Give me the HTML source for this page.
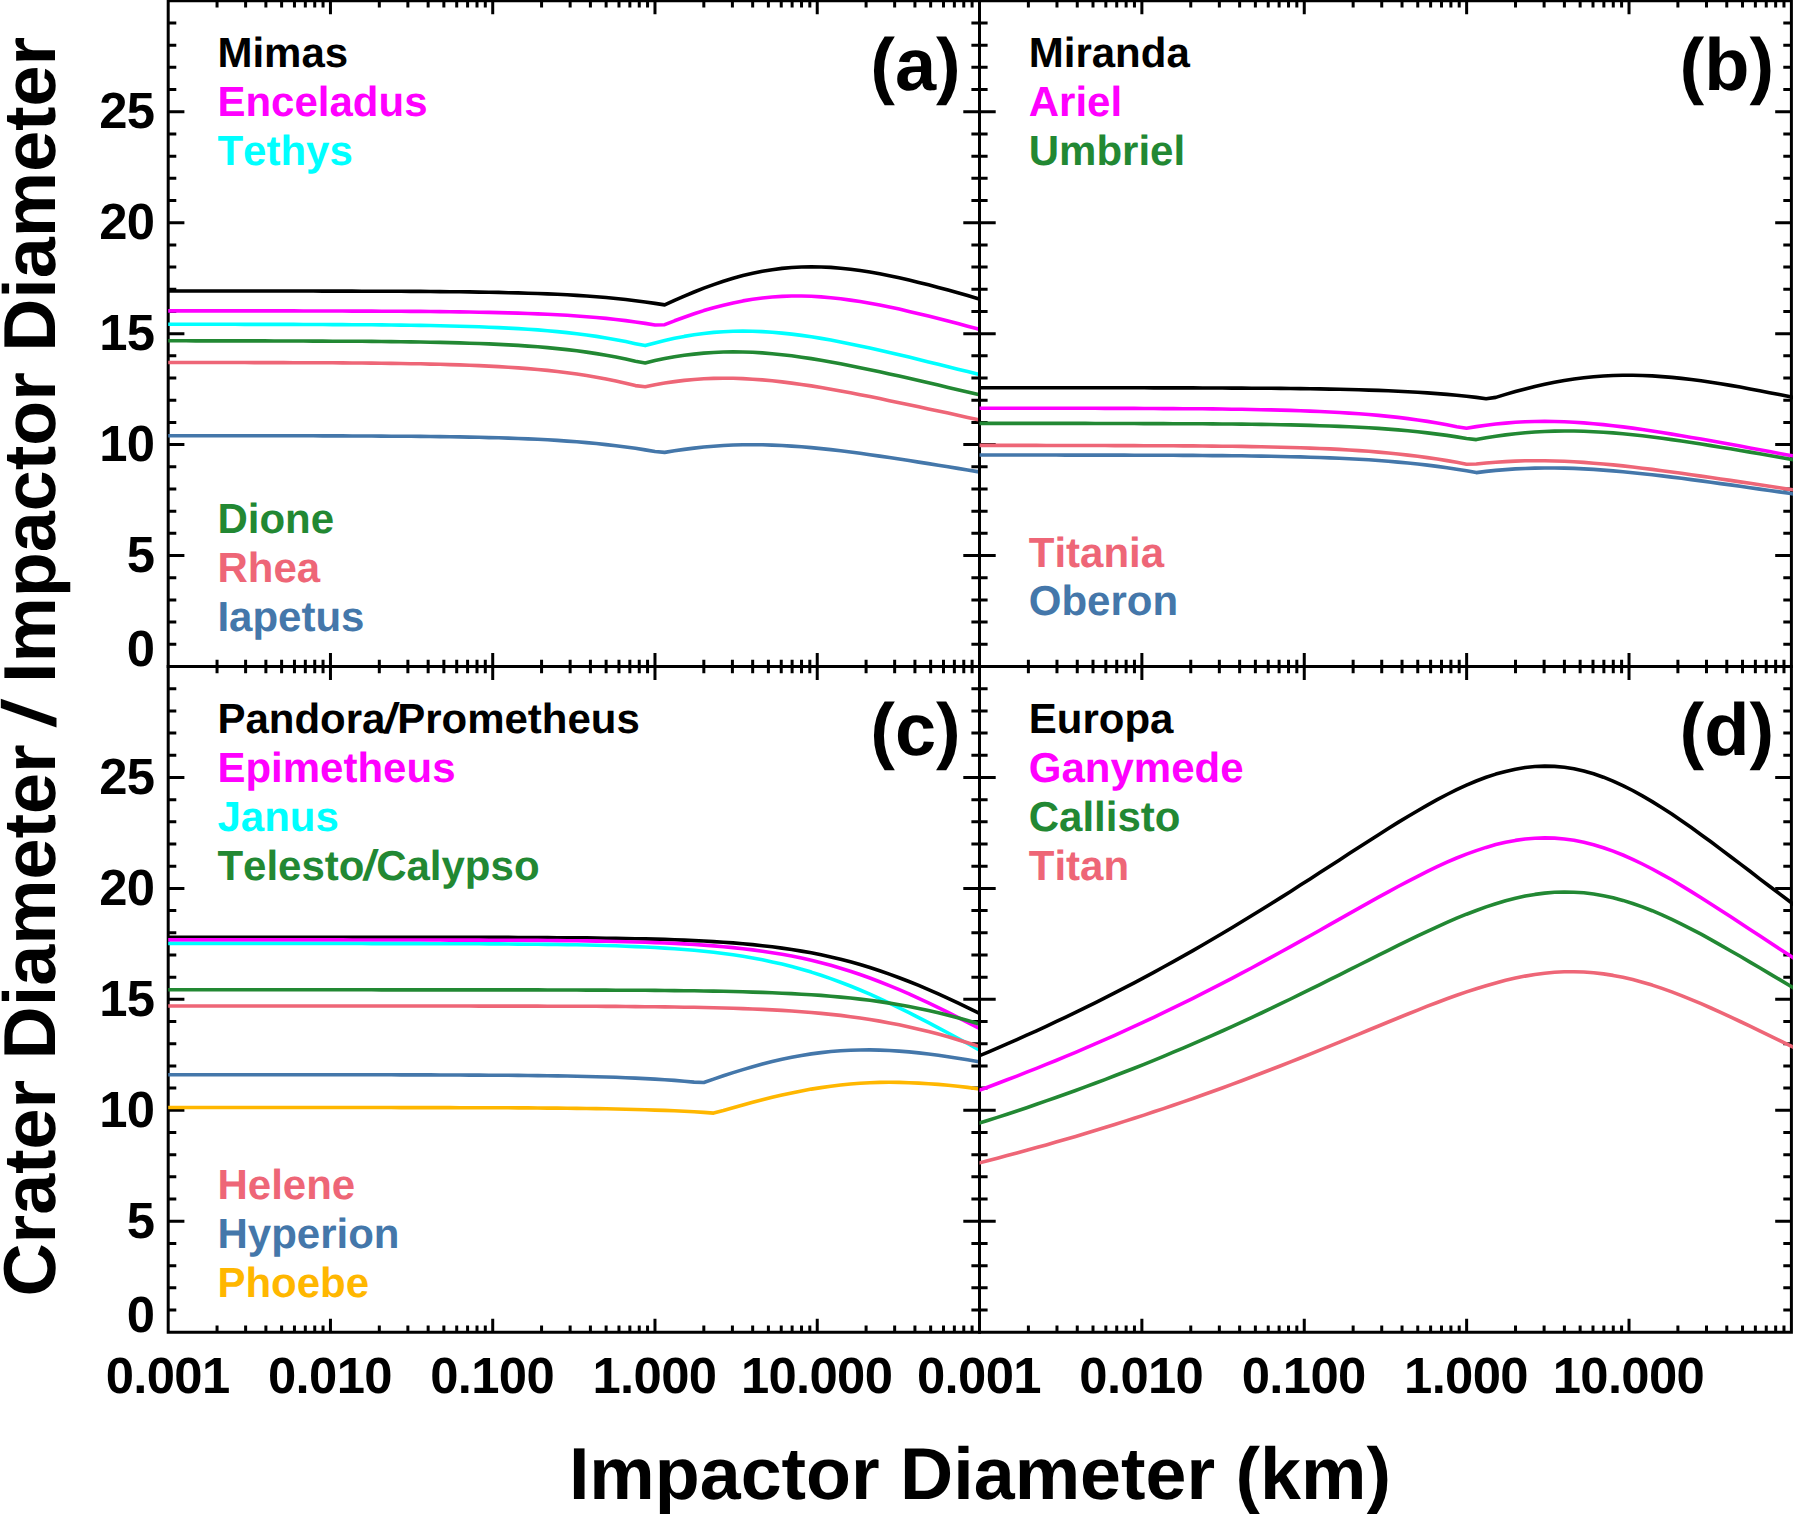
<!DOCTYPE html>
<html><head><meta charset="utf-8"><title>Crater Diameter / Impactor Diameter</title>
<style>html,body{margin:0;padding:0;background:#fff}body{width:1793px;height:1514px;overflow:hidden}</style></head>
<body>
<svg width="1793" height="1514" viewBox="0 0 1793 1514" style="display:block;font-kerning:none;text-rendering:geometricPrecision">
<rect width="1793" height="1514" fill="#fff"/>
<defs>
<clipPath id="cpa"><rect x="168.2" y="0.8" width="811.3" height="665.7"/></clipPath>
<clipPath id="cpb"><rect x="979.5" y="0.8" width="813.4000000000001" height="665.7"/></clipPath>
<clipPath id="cpc"><rect x="168.2" y="666.5" width="811.3" height="665.7"/></clipPath>
<clipPath id="cpd"><rect x="979.5" y="666.5" width="813.4000000000001" height="665.7"/></clipPath>
</defs>
<path d="M168.2 0.8H979.5V666.5H168.2ZM217.05 0.8v6.8M217.05 666.5v-6.8M245.62 0.8v6.8M245.62 666.5v-6.8M265.89 0.8v6.8M265.89 666.5v-6.8M281.61 0.8v6.8M281.61 666.5v-6.8M294.46 0.8v6.8M294.46 666.5v-6.8M305.33 0.8v6.8M305.33 666.5v-6.8M314.74 0.8v6.8M314.74 666.5v-6.8M323.04 0.8v6.8M323.04 666.5v-6.8M330.46 0.8v13.4M330.46 666.5v-13.4M379.31 0.8v6.8M379.31 666.5v-6.8M407.88 0.8v6.8M407.88 666.5v-6.8M428.15 0.8v6.8M428.15 666.5v-6.8M443.87 0.8v6.8M443.87 666.5v-6.8M456.72 0.8v6.8M456.72 666.5v-6.8M467.59 0.8v6.8M467.59 666.5v-6.8M477.00 0.8v6.8M477.00 666.5v-6.8M485.30 0.8v6.8M485.30 666.5v-6.8M492.72 0.8v13.4M492.72 666.5v-13.4M541.57 0.8v6.8M541.57 666.5v-6.8M570.14 0.8v6.8M570.14 666.5v-6.8M590.41 0.8v6.8M590.41 666.5v-6.8M606.13 0.8v6.8M606.13 666.5v-6.8M618.98 0.8v6.8M618.98 666.5v-6.8M629.85 0.8v6.8M629.85 666.5v-6.8M639.26 0.8v6.8M639.26 666.5v-6.8M647.56 0.8v6.8M647.56 666.5v-6.8M654.98 0.8v13.4M654.98 666.5v-13.4M703.83 0.8v6.8M703.83 666.5v-6.8M732.40 0.8v6.8M732.40 666.5v-6.8M752.67 0.8v6.8M752.67 666.5v-6.8M768.39 0.8v6.8M768.39 666.5v-6.8M781.24 0.8v6.8M781.24 666.5v-6.8M792.11 0.8v6.8M792.11 666.5v-6.8M801.52 0.8v6.8M801.52 666.5v-6.8M809.82 0.8v6.8M809.82 666.5v-6.8M817.24 0.8v13.4M817.24 666.5v-13.4M866.09 0.8v6.8M866.09 666.5v-6.8M894.66 0.8v6.8M894.66 666.5v-6.8M914.93 0.8v6.8M914.93 666.5v-6.8M930.65 0.8v6.8M930.65 666.5v-6.8M943.50 0.8v6.8M943.50 666.5v-6.8M954.37 0.8v6.8M954.37 666.5v-6.8M963.78 0.8v6.8M963.78 666.5v-6.8M972.08 0.8v6.8M972.08 666.5v-6.8M168.2 644.31h8.1M979.5 644.31h-8.1M168.2 622.12h8.1M979.5 622.12h-8.1M168.2 599.93h8.1M979.5 599.93h-8.1M168.2 577.74h8.1M979.5 577.74h-8.1M168.2 555.55h16.2M979.5 555.55h-16.2M168.2 533.36h8.1M979.5 533.36h-8.1M168.2 511.17h8.1M979.5 511.17h-8.1M168.2 488.98h8.1M979.5 488.98h-8.1M168.2 466.79h8.1M979.5 466.79h-8.1M168.2 444.60h16.2M979.5 444.60h-16.2M168.2 422.41h8.1M979.5 422.41h-8.1M168.2 400.22h8.1M979.5 400.22h-8.1M168.2 378.03h8.1M979.5 378.03h-8.1M168.2 355.84h8.1M979.5 355.84h-8.1M168.2 333.65h16.2M979.5 333.65h-16.2M168.2 311.46h8.1M979.5 311.46h-8.1M168.2 289.27h8.1M979.5 289.27h-8.1M168.2 267.08h8.1M979.5 267.08h-8.1M168.2 244.89h8.1M979.5 244.89h-8.1M168.2 222.70h16.2M979.5 222.70h-16.2M168.2 200.51h8.1M979.5 200.51h-8.1M168.2 178.32h8.1M979.5 178.32h-8.1M168.2 156.13h8.1M979.5 156.13h-8.1M168.2 133.94h8.1M979.5 133.94h-8.1M168.2 111.75h16.2M979.5 111.75h-16.2M168.2 89.56h8.1M979.5 89.56h-8.1M168.2 67.37h8.1M979.5 67.37h-8.1M168.2 45.18h8.1M979.5 45.18h-8.1M168.2 22.99h8.1M979.5 22.99h-8.1" fill="none" stroke="#000" stroke-width="3.0" stroke-linejoin="miter"/>
<g clip-path="url(#cpa)" fill="none" stroke-width="3.6" stroke-linejoin="round" stroke-linecap="butt">
<path d="M156.8 290.9 L166.5 290.9 L176.3 291.0 L186.1 291.0 L195.8 291.0 L205.6 291.0 L215.4 291.0 L225.1 291.0 L234.9 291.0 L244.7 291.0 L254.4 291.0 L264.2 291.0 L274.0 291.0 L283.8 291.0 L293.5 291.0 L303.3 291.0 L313.1 291.0 L322.8 291.1 L332.6 291.1 L342.4 291.1 L352.1 291.1 L361.9 291.2 L371.7 291.2 L381.4 291.2 L391.2 291.3 L401.0 291.3 L410.8 291.4 L420.5 291.4 L430.3 291.5 L440.1 291.6 L449.8 291.7 L459.6 291.8 L469.4 291.9 L479.1 292.1 L488.9 292.2 L498.7 292.4 L508.4 292.7 L518.2 292.9 L528.0 293.2 L537.8 293.5 L547.5 293.9 L557.3 294.3 L567.1 294.8 L576.8 295.4 L586.6 296.0 L596.4 296.7 L606.1 297.5 L615.9 298.5 L625.7 299.5 L635.4 300.7 L645.2 302.0 L655.0 303.4 L664.7 304.9 L674.5 300.4 L684.3 296.1 L694.1 292.0 L703.8 288.1 L713.6 284.6 L723.4 281.3 L733.1 278.3 L742.9 275.6 L752.7 273.3 L762.4 271.3 L772.2 269.7 L782.0 268.4 L791.7 267.5 L801.5 267.0 L811.3 266.8 L821.1 267.0 L830.8 267.4 L840.6 268.2 L850.4 269.2 L860.1 270.5 L869.9 272.0 L879.7 273.8 L889.4 275.7 L899.2 277.8 L909.0 280.0 L918.7 282.4 L928.5 284.8 L938.3 287.4 L948.1 290.1 L957.8 292.8 L967.6 295.6 L977.4 298.4 L987.1 301.3 L996.9 304.2" stroke="#000000"/>
<path d="M156.8 310.9 L166.5 310.9 L176.3 310.9 L186.1 310.9 L195.8 310.9 L205.6 310.9 L215.4 310.9 L225.1 310.9 L234.9 310.9 L244.7 310.9 L254.4 310.9 L264.2 310.9 L274.0 310.9 L283.8 310.9 L293.5 310.9 L303.3 311.0 L313.1 311.0 L322.8 311.0 L332.6 311.0 L342.4 311.0 L352.1 311.1 L361.9 311.1 L371.7 311.1 L381.4 311.2 L391.2 311.2 L401.0 311.3 L410.8 311.4 L420.5 311.4 L430.3 311.5 L440.1 311.6 L449.8 311.7 L459.6 311.9 L469.4 312.0 L479.1 312.2 L488.9 312.4 L498.7 312.6 L508.4 312.9 L518.2 313.1 L528.0 313.5 L537.8 313.9 L547.5 314.3 L557.3 314.8 L567.1 315.3 L576.8 316.0 L586.6 316.7 L596.4 317.5 L606.1 318.4 L615.9 319.5 L625.7 320.6 L635.4 322.0 L645.2 323.4 L655.0 325.0 L664.7 324.7 L674.5 320.8 L684.3 317.2 L694.1 313.8 L703.8 310.6 L713.6 307.7 L723.4 305.2 L733.1 302.9 L742.9 300.9 L752.7 299.3 L762.4 298.0 L772.2 297.0 L782.0 296.4 L791.7 296.0 L801.5 296.0 L811.3 296.3 L821.1 296.9 L830.8 297.7 L840.6 298.8 L850.4 300.1 L860.1 301.5 L869.9 303.2 L879.7 305.1 L889.4 307.0 L899.2 309.1 L909.0 311.4 L918.7 313.7 L928.5 316.1 L938.3 318.5 L948.1 321.0 L957.8 323.6 L967.6 326.2 L977.4 328.8 L987.1 331.5 L996.9 334.2" stroke="#FF00FF"/>
<path d="M156.8 324.3 L166.5 324.3 L176.3 324.3 L186.1 324.3 L195.8 324.3 L205.6 324.3 L215.4 324.3 L225.1 324.3 L234.9 324.3 L244.7 324.4 L254.4 324.4 L264.2 324.4 L274.0 324.4 L283.8 324.4 L293.5 324.4 L303.3 324.5 L313.1 324.5 L322.8 324.5 L332.6 324.6 L342.4 324.6 L352.1 324.7 L361.9 324.8 L371.7 324.8 L381.4 324.9 L391.2 325.0 L401.0 325.1 L410.8 325.2 L420.5 325.4 L430.3 325.5 L440.1 325.7 L449.8 326.0 L459.6 326.2 L469.4 326.5 L479.1 326.8 L488.9 327.2 L498.7 327.6 L508.4 328.1 L518.2 328.6 L528.0 329.2 L537.8 329.9 L547.5 330.7 L557.3 331.6 L567.1 332.6 L576.8 333.7 L586.6 335.0 L596.4 336.4 L606.1 338.0 L615.9 339.7 L625.7 341.6 L635.4 343.7 L645.2 345.6 L655.0 342.9 L664.7 340.5 L674.5 338.3 L684.3 336.4 L694.1 334.8 L703.8 333.5 L713.6 332.4 L723.4 331.7 L733.1 331.3 L742.9 331.1 L752.7 331.2 L762.4 331.6 L772.2 332.2 L782.0 333.1 L791.7 334.1 L801.5 335.4 L811.3 336.8 L821.1 338.4 L830.8 340.1 L840.6 341.9 L850.4 343.9 L860.1 345.9 L869.9 348.0 L879.7 350.2 L889.4 352.5 L899.2 354.8 L909.0 357.1 L918.7 359.5 L928.5 361.9 L938.3 364.3 L948.1 366.7 L957.8 369.2 L967.6 371.6 L977.4 374.0 L987.1 376.5 L996.9 378.9" stroke="#00FFFF"/>
<path d="M156.8 340.8 L166.5 340.8 L176.3 340.8 L186.1 340.8 L195.8 340.9 L205.6 340.9 L215.4 340.9 L225.1 340.9 L234.9 340.9 L244.7 340.9 L254.4 340.9 L264.2 340.9 L274.0 341.0 L283.8 341.0 L293.5 341.0 L303.3 341.0 L313.1 341.1 L322.8 341.1 L332.6 341.2 L342.4 341.2 L352.1 341.3 L361.9 341.3 L371.7 341.4 L381.4 341.5 L391.2 341.6 L401.0 341.7 L410.8 341.9 L420.5 342.0 L430.3 342.2 L440.1 342.4 L449.8 342.6 L459.6 342.9 L469.4 343.2 L479.1 343.5 L488.9 343.9 L498.7 344.4 L508.4 344.9 L518.2 345.4 L528.0 346.1 L537.8 346.8 L547.5 347.6 L557.3 348.6 L567.1 349.6 L576.8 350.8 L586.6 352.1 L596.4 353.6 L606.1 355.2 L615.9 357.0 L625.7 359.0 L635.4 361.2 L645.2 362.9 L655.0 360.6 L664.7 358.6 L674.5 356.8 L684.3 355.3 L694.1 354.1 L703.8 353.1 L713.6 352.5 L723.4 352.0 L733.1 351.9 L742.9 352.0 L752.7 352.3 L762.4 352.9 L772.2 353.7 L782.0 354.7 L791.7 355.8 L801.5 357.2 L811.3 358.6 L821.1 360.2 L830.8 361.9 L840.6 363.8 L850.4 365.7 L860.1 367.7 L869.9 369.7 L879.7 371.8 L889.4 373.9 L899.2 376.1 L909.0 378.3 L918.7 380.6 L928.5 382.8 L938.3 385.1 L948.1 387.4 L957.8 389.7 L967.6 392.0 L977.4 394.2 L987.1 396.5 L996.9 398.8" stroke="#228833"/>
<path d="M156.8 362.5 L166.5 362.5 L176.3 362.5 L186.1 362.5 L195.8 362.5 L205.6 362.5 L215.4 362.5 L225.1 362.5 L234.9 362.5 L244.7 362.5 L254.4 362.6 L264.2 362.6 L274.0 362.6 L283.8 362.6 L293.5 362.7 L303.3 362.7 L313.1 362.7 L322.8 362.8 L332.6 362.8 L342.4 362.9 L352.1 363.0 L361.9 363.0 L371.7 363.1 L381.4 363.2 L391.2 363.4 L401.0 363.5 L410.8 363.7 L420.5 363.8 L430.3 364.1 L440.1 364.3 L449.8 364.6 L459.6 364.9 L469.4 365.2 L479.1 365.6 L488.9 366.1 L498.7 366.6 L508.4 367.2 L518.2 367.9 L528.0 368.6 L537.8 369.5 L547.5 370.4 L557.3 371.5 L567.1 372.7 L576.8 374.0 L586.6 375.5 L596.4 377.2 L606.1 379.0 L615.9 381.0 L625.7 383.2 L635.4 385.6 L645.2 386.7 L655.0 384.7 L664.7 383.0 L674.5 381.6 L684.3 380.4 L694.1 379.5 L703.8 378.8 L713.6 378.4 L723.4 378.2 L733.1 378.3 L742.9 378.6 L752.7 379.2 L762.4 379.9 L772.2 380.8 L782.0 381.9 L791.7 383.1 L801.5 384.5 L811.3 385.9 L821.1 387.5 L830.8 389.2 L840.6 391.0 L850.4 392.8 L860.1 394.7 L869.9 396.6 L879.7 398.6 L889.4 400.7 L899.2 402.7 L909.0 404.8 L918.7 406.8 L928.5 408.9 L938.3 411.0 L948.1 413.1 L957.8 415.3 L967.6 417.4 L977.4 419.5 L987.1 421.6 L996.9 423.6" stroke="#EE6677"/>
<path d="M156.8 435.7 L166.5 435.7 L176.3 435.7 L186.1 435.7 L195.8 435.7 L205.6 435.7 L215.4 435.7 L225.1 435.7 L234.9 435.7 L244.7 435.7 L254.4 435.8 L264.2 435.8 L274.0 435.8 L283.8 435.8 L293.5 435.8 L303.3 435.8 L313.1 435.8 L322.8 435.9 L332.6 435.9 L342.4 435.9 L352.1 436.0 L361.9 436.0 L371.7 436.0 L381.4 436.1 L391.2 436.2 L401.0 436.2 L410.8 436.3 L420.5 436.4 L430.3 436.5 L440.1 436.6 L449.8 436.8 L459.6 436.9 L469.4 437.1 L479.1 437.3 L488.9 437.6 L498.7 437.8 L508.4 438.1 L518.2 438.5 L528.0 438.9 L537.8 439.3 L547.5 439.8 L557.3 440.4 L567.1 441.1 L576.8 441.8 L586.6 442.6 L596.4 443.5 L606.1 444.6 L615.9 445.7 L625.7 447.0 L635.4 448.3 L645.2 449.9 L655.0 451.5 L664.7 452.4 L674.5 450.8 L684.3 449.4 L694.1 448.1 L703.8 447.0 L713.6 446.2 L723.4 445.5 L733.1 445.0 L742.9 444.8 L752.7 444.7 L762.4 444.8 L772.2 445.1 L782.0 445.5 L791.7 446.1 L801.5 446.8 L811.3 447.6 L821.1 448.6 L830.8 449.6 L840.6 450.8 L850.4 452.0 L860.1 453.3 L869.9 454.7 L879.7 456.1 L889.4 457.5 L899.2 459.0 L909.0 460.5 L918.7 462.1 L928.5 463.6 L938.3 465.2 L948.1 466.8 L957.8 468.4 L967.6 470.0 L977.4 471.6 L987.1 473.2 L996.9 474.8" stroke="#4477AA"/>
</g>
<path d="M979.5 0.8H1791.4V666.5H979.5ZM1028.38 0.8v6.8M1028.38 666.5v-6.8M1056.97 0.8v6.8M1056.97 666.5v-6.8M1077.26 0.8v6.8M1077.26 666.5v-6.8M1093.00 0.8v6.8M1093.00 666.5v-6.8M1105.86 0.8v6.8M1105.86 666.5v-6.8M1116.73 0.8v6.8M1116.73 666.5v-6.8M1126.14 0.8v6.8M1126.14 666.5v-6.8M1134.45 0.8v6.8M1134.45 666.5v-6.8M1141.88 0.8v13.4M1141.88 666.5v-13.4M1190.76 0.8v6.8M1190.76 666.5v-6.8M1219.35 0.8v6.8M1219.35 666.5v-6.8M1239.64 0.8v6.8M1239.64 666.5v-6.8M1255.38 0.8v6.8M1255.38 666.5v-6.8M1268.24 0.8v6.8M1268.24 666.5v-6.8M1279.11 0.8v6.8M1279.11 666.5v-6.8M1288.52 0.8v6.8M1288.52 666.5v-6.8M1296.83 0.8v6.8M1296.83 666.5v-6.8M1304.26 0.8v13.4M1304.26 666.5v-13.4M1353.14 0.8v6.8M1353.14 666.5v-6.8M1381.73 0.8v6.8M1381.73 666.5v-6.8M1402.02 0.8v6.8M1402.02 666.5v-6.8M1417.76 0.8v6.8M1417.76 666.5v-6.8M1430.62 0.8v6.8M1430.62 666.5v-6.8M1441.49 0.8v6.8M1441.49 666.5v-6.8M1450.90 0.8v6.8M1450.90 666.5v-6.8M1459.21 0.8v6.8M1459.21 666.5v-6.8M1466.64 0.8v13.4M1466.64 666.5v-13.4M1515.52 0.8v6.8M1515.52 666.5v-6.8M1544.11 0.8v6.8M1544.11 666.5v-6.8M1564.40 0.8v6.8M1564.40 666.5v-6.8M1580.14 0.8v6.8M1580.14 666.5v-6.8M1593.00 0.8v6.8M1593.00 666.5v-6.8M1603.87 0.8v6.8M1603.87 666.5v-6.8M1613.28 0.8v6.8M1613.28 666.5v-6.8M1621.59 0.8v6.8M1621.59 666.5v-6.8M1629.02 0.8v13.4M1629.02 666.5v-13.4M1677.90 0.8v6.8M1677.90 666.5v-6.8M1706.49 0.8v6.8M1706.49 666.5v-6.8M1726.78 0.8v6.8M1726.78 666.5v-6.8M1742.52 0.8v6.8M1742.52 666.5v-6.8M1755.38 0.8v6.8M1755.38 666.5v-6.8M1766.25 0.8v6.8M1766.25 666.5v-6.8M1775.66 0.8v6.8M1775.66 666.5v-6.8M1783.97 0.8v6.8M1783.97 666.5v-6.8M979.5 644.31h8.1M1791.4 644.31h-8.1M979.5 622.12h8.1M1791.4 622.12h-8.1M979.5 599.93h8.1M1791.4 599.93h-8.1M979.5 577.74h8.1M1791.4 577.74h-8.1M979.5 555.55h16.2M1791.4 555.55h-16.2M979.5 533.36h8.1M1791.4 533.36h-8.1M979.5 511.17h8.1M1791.4 511.17h-8.1M979.5 488.98h8.1M1791.4 488.98h-8.1M979.5 466.79h8.1M1791.4 466.79h-8.1M979.5 444.60h16.2M1791.4 444.60h-16.2M979.5 422.41h8.1M1791.4 422.41h-8.1M979.5 400.22h8.1M1791.4 400.22h-8.1M979.5 378.03h8.1M1791.4 378.03h-8.1M979.5 355.84h8.1M1791.4 355.84h-8.1M979.5 333.65h16.2M1791.4 333.65h-16.2M979.5 311.46h8.1M1791.4 311.46h-8.1M979.5 289.27h8.1M1791.4 289.27h-8.1M979.5 267.08h8.1M1791.4 267.08h-8.1M979.5 244.89h8.1M1791.4 244.89h-8.1M979.5 222.70h16.2M1791.4 222.70h-16.2M979.5 200.51h8.1M1791.4 200.51h-8.1M979.5 178.32h8.1M1791.4 178.32h-8.1M979.5 156.13h8.1M1791.4 156.13h-8.1M979.5 133.94h8.1M1791.4 133.94h-8.1M979.5 111.75h16.2M1791.4 111.75h-16.2M979.5 89.56h8.1M1791.4 89.56h-8.1M979.5 67.37h8.1M1791.4 67.37h-8.1M979.5 45.18h8.1M1791.4 45.18h-8.1M979.5 22.99h8.1M1791.4 22.99h-8.1" fill="none" stroke="#000" stroke-width="3.0" stroke-linejoin="miter"/>
<g clip-path="url(#cpb)" fill="none" stroke-width="3.6" stroke-linejoin="round" stroke-linecap="butt">
<path d="M968.1 387.8 L977.8 387.8 L987.6 387.8 L997.4 387.8 L1007.1 387.8 L1016.9 387.8 L1026.7 387.8 L1036.5 387.8 L1046.2 387.8 L1056.0 387.8 L1065.8 387.8 L1075.6 387.8 L1085.3 387.8 L1095.1 387.8 L1104.9 387.8 L1114.7 387.8 L1124.4 387.8 L1134.2 387.8 L1144.0 387.8 L1153.8 387.9 L1163.5 387.9 L1173.3 387.9 L1183.1 387.9 L1192.9 387.9 L1202.6 388.0 L1212.4 388.0 L1222.2 388.0 L1231.9 388.1 L1241.7 388.1 L1251.5 388.2 L1261.3 388.3 L1271.0 388.3 L1280.8 388.4 L1290.6 388.5 L1300.4 388.6 L1310.1 388.8 L1319.9 388.9 L1329.7 389.1 L1339.5 389.3 L1349.2 389.5 L1359.0 389.8 L1368.8 390.1 L1378.6 390.4 L1388.3 390.8 L1398.1 391.2 L1407.9 391.7 L1417.7 392.3 L1427.4 392.9 L1437.2 393.6 L1447.0 394.4 L1456.7 395.3 L1466.5 396.3 L1476.3 397.4 L1486.1 398.7 L1495.8 397.4 L1505.6 394.4 L1515.4 391.6 L1525.2 389.0 L1534.9 386.5 L1544.7 384.3 L1554.5 382.3 L1564.3 380.6 L1574.0 379.0 L1583.8 377.8 L1593.6 376.8 L1603.4 376.0 L1613.1 375.5 L1622.9 375.3 L1632.7 375.3 L1642.4 375.5 L1652.2 375.9 L1662.0 376.6 L1671.8 377.4 L1681.5 378.4 L1691.3 379.5 L1701.1 380.8 L1710.9 382.3 L1720.6 383.8 L1730.4 385.4 L1740.2 387.1 L1750.0 388.9 L1759.7 390.8 L1769.5 392.7 L1779.3 394.6 L1789.1 396.6 L1798.8 398.6 L1808.6 400.7" stroke="#000000"/>
<path d="M968.1 408.2 L977.8 408.2 L987.6 408.2 L997.4 408.2 L1007.1 408.2 L1016.9 408.2 L1026.7 408.2 L1036.5 408.3 L1046.2 408.3 L1056.0 408.3 L1065.8 408.3 L1075.6 408.3 L1085.3 408.3 L1095.1 408.3 L1104.9 408.4 L1114.7 408.4 L1124.4 408.4 L1134.2 408.4 L1144.0 408.5 L1153.8 408.5 L1163.5 408.6 L1173.3 408.6 L1183.1 408.7 L1192.9 408.8 L1202.6 408.8 L1212.4 408.9 L1222.2 409.0 L1231.9 409.2 L1241.7 409.3 L1251.5 409.5 L1261.3 409.7 L1271.0 409.9 L1280.8 410.1 L1290.6 410.4 L1300.4 410.7 L1310.1 411.1 L1319.9 411.5 L1329.7 412.0 L1339.5 412.5 L1349.2 413.1 L1359.0 413.8 L1368.8 414.5 L1378.6 415.4 L1388.3 416.4 L1398.1 417.4 L1407.9 418.6 L1417.7 420.0 L1427.4 421.4 L1437.2 423.0 L1447.0 424.8 L1456.7 426.7 L1466.5 428.2 L1476.3 426.6 L1486.1 425.2 L1495.8 424.0 L1505.6 423.1 L1515.4 422.3 L1525.2 421.8 L1534.9 421.5 L1544.7 421.4 L1554.5 421.5 L1564.3 421.8 L1574.0 422.2 L1583.8 422.9 L1593.6 423.7 L1603.4 424.6 L1613.1 425.7 L1622.9 426.9 L1632.7 428.1 L1642.4 429.5 L1652.2 431.0 L1662.0 432.5 L1671.8 434.1 L1681.5 435.7 L1691.3 437.4 L1701.1 439.1 L1710.9 440.8 L1720.6 442.6 L1730.4 444.3 L1740.2 446.1 L1750.0 447.9 L1759.7 449.7 L1769.5 451.6 L1779.3 453.4 L1789.1 455.2 L1798.8 457.0 L1808.6 458.8" stroke="#FF00FF"/>
<path d="M968.1 423.4 L977.8 423.4 L987.6 423.4 L997.4 423.4 L1007.1 423.4 L1016.9 423.4 L1026.7 423.4 L1036.5 423.4 L1046.2 423.4 L1056.0 423.4 L1065.8 423.4 L1075.6 423.4 L1085.3 423.4 L1095.1 423.5 L1104.9 423.5 L1114.7 423.5 L1124.4 423.5 L1134.2 423.5 L1144.0 423.6 L1153.8 423.6 L1163.5 423.6 L1173.3 423.7 L1183.1 423.7 L1192.9 423.8 L1202.6 423.8 L1212.4 423.9 L1222.2 424.0 L1231.9 424.0 L1241.7 424.1 L1251.5 424.3 L1261.3 424.4 L1271.0 424.5 L1280.8 424.7 L1290.6 424.9 L1300.4 425.1 L1310.1 425.4 L1319.9 425.7 L1329.7 426.0 L1339.5 426.4 L1349.2 426.8 L1359.0 427.3 L1368.8 427.8 L1378.6 428.4 L1388.3 429.1 L1398.1 429.9 L1407.9 430.8 L1417.7 431.8 L1427.4 432.9 L1437.2 434.1 L1447.0 435.4 L1456.7 436.9 L1466.5 438.5 L1476.3 439.6 L1486.1 437.8 L1495.8 436.3 L1505.6 434.9 L1515.4 433.8 L1525.2 432.8 L1534.9 432.0 L1544.7 431.5 L1554.5 431.1 L1564.3 431.0 L1574.0 431.0 L1583.8 431.3 L1593.6 431.7 L1603.4 432.2 L1613.1 432.9 L1622.9 433.8 L1632.7 434.8 L1642.4 435.8 L1652.2 437.0 L1662.0 438.3 L1671.8 439.6 L1681.5 441.0 L1691.3 442.5 L1701.1 444.0 L1710.9 445.6 L1720.6 447.2 L1730.4 448.8 L1740.2 450.5 L1750.0 452.1 L1759.7 453.8 L1769.5 455.5 L1779.3 457.2 L1789.1 458.9 L1798.8 460.6 L1808.6 462.3" stroke="#228833"/>
<path d="M968.1 445.4 L977.8 445.4 L987.6 445.4 L997.4 445.4 L1007.1 445.4 L1016.9 445.4 L1026.7 445.4 L1036.5 445.4 L1046.2 445.5 L1056.0 445.5 L1065.8 445.5 L1075.6 445.5 L1085.3 445.5 L1095.1 445.5 L1104.9 445.5 L1114.7 445.6 L1124.4 445.6 L1134.2 445.6 L1144.0 445.7 L1153.8 445.7 L1163.5 445.7 L1173.3 445.8 L1183.1 445.9 L1192.9 445.9 L1202.6 446.0 L1212.4 446.1 L1222.2 446.2 L1231.9 446.3 L1241.7 446.4 L1251.5 446.6 L1261.3 446.8 L1271.0 447.0 L1280.8 447.2 L1290.6 447.5 L1300.4 447.8 L1310.1 448.1 L1319.9 448.5 L1329.7 448.9 L1339.5 449.4 L1349.2 450.0 L1359.0 450.6 L1368.8 451.3 L1378.6 452.1 L1388.3 453.0 L1398.1 454.0 L1407.9 455.1 L1417.7 456.3 L1427.4 457.6 L1437.2 459.0 L1447.0 460.6 L1456.7 462.3 L1466.5 464.2 L1476.3 464.0 L1486.1 463.0 L1495.8 462.2 L1505.6 461.6 L1515.4 461.1 L1525.2 460.8 L1534.9 460.7 L1544.7 460.8 L1554.5 461.0 L1564.3 461.3 L1574.0 461.8 L1583.8 462.4 L1593.6 463.2 L1603.4 464.0 L1613.1 464.9 L1622.9 465.9 L1632.7 467.0 L1642.4 468.2 L1652.2 469.4 L1662.0 470.7 L1671.8 472.0 L1681.5 473.3 L1691.3 474.7 L1701.1 476.1 L1710.9 477.5 L1720.6 479.0 L1730.4 480.4 L1740.2 481.9 L1750.0 483.3 L1759.7 484.8 L1769.5 486.3 L1779.3 487.8 L1789.1 489.2 L1798.8 490.7 L1808.6 492.1" stroke="#EE6677"/>
<path d="M968.1 455.0 L977.8 455.0 L987.6 455.0 L997.4 455.0 L1007.1 455.0 L1016.9 455.0 L1026.7 455.0 L1036.5 455.0 L1046.2 455.0 L1056.0 455.0 L1065.8 455.1 L1075.6 455.1 L1085.3 455.1 L1095.1 455.1 L1104.9 455.1 L1114.7 455.1 L1124.4 455.1 L1134.2 455.2 L1144.0 455.2 L1153.8 455.2 L1163.5 455.3 L1173.3 455.3 L1183.1 455.4 L1192.9 455.4 L1202.6 455.5 L1212.4 455.6 L1222.2 455.6 L1231.9 455.7 L1241.7 455.8 L1251.5 456.0 L1261.3 456.1 L1271.0 456.3 L1280.8 456.5 L1290.6 456.7 L1300.4 456.9 L1310.1 457.2 L1319.9 457.5 L1329.7 457.9 L1339.5 458.3 L1349.2 458.7 L1359.0 459.3 L1368.8 459.8 L1378.6 460.5 L1388.3 461.2 L1398.1 462.1 L1407.9 463.0 L1417.7 464.0 L1427.4 465.1 L1437.2 466.4 L1447.0 467.7 L1456.7 469.2 L1466.5 470.8 L1476.3 472.6 L1486.1 471.4 L1495.8 470.4 L1505.6 469.6 L1515.4 468.9 L1525.2 468.5 L1534.9 468.1 L1544.7 468.0 L1554.5 468.0 L1564.3 468.1 L1574.0 468.4 L1583.8 468.9 L1593.6 469.4 L1603.4 470.1 L1613.1 470.9 L1622.9 471.7 L1632.7 472.7 L1642.4 473.7 L1652.2 474.8 L1662.0 475.9 L1671.8 477.1 L1681.5 478.3 L1691.3 479.6 L1701.1 480.9 L1710.9 482.2 L1720.6 483.6 L1730.4 484.9 L1740.2 486.3 L1750.0 487.7 L1759.7 489.1 L1769.5 490.5 L1779.3 491.9 L1789.1 493.3 L1798.8 494.6 L1808.6 496.0" stroke="#4477AA"/>
</g>
<path d="M168.2 666.5H979.5V1332.2H168.2ZM217.05 666.5v6.8M217.05 1332.2v-6.8M245.62 666.5v6.8M245.62 1332.2v-6.8M265.89 666.5v6.8M265.89 1332.2v-6.8M281.61 666.5v6.8M281.61 1332.2v-6.8M294.46 666.5v6.8M294.46 1332.2v-6.8M305.33 666.5v6.8M305.33 1332.2v-6.8M314.74 666.5v6.8M314.74 1332.2v-6.8M323.04 666.5v6.8M323.04 1332.2v-6.8M330.46 666.5v13.4M330.46 1332.2v-13.4M379.31 666.5v6.8M379.31 1332.2v-6.8M407.88 666.5v6.8M407.88 1332.2v-6.8M428.15 666.5v6.8M428.15 1332.2v-6.8M443.87 666.5v6.8M443.87 1332.2v-6.8M456.72 666.5v6.8M456.72 1332.2v-6.8M467.59 666.5v6.8M467.59 1332.2v-6.8M477.00 666.5v6.8M477.00 1332.2v-6.8M485.30 666.5v6.8M485.30 1332.2v-6.8M492.72 666.5v13.4M492.72 1332.2v-13.4M541.57 666.5v6.8M541.57 1332.2v-6.8M570.14 666.5v6.8M570.14 1332.2v-6.8M590.41 666.5v6.8M590.41 1332.2v-6.8M606.13 666.5v6.8M606.13 1332.2v-6.8M618.98 666.5v6.8M618.98 1332.2v-6.8M629.85 666.5v6.8M629.85 1332.2v-6.8M639.26 666.5v6.8M639.26 1332.2v-6.8M647.56 666.5v6.8M647.56 1332.2v-6.8M654.98 666.5v13.4M654.98 1332.2v-13.4M703.83 666.5v6.8M703.83 1332.2v-6.8M732.40 666.5v6.8M732.40 1332.2v-6.8M752.67 666.5v6.8M752.67 1332.2v-6.8M768.39 666.5v6.8M768.39 1332.2v-6.8M781.24 666.5v6.8M781.24 1332.2v-6.8M792.11 666.5v6.8M792.11 1332.2v-6.8M801.52 666.5v6.8M801.52 1332.2v-6.8M809.82 666.5v6.8M809.82 1332.2v-6.8M817.24 666.5v13.4M817.24 1332.2v-13.4M866.09 666.5v6.8M866.09 1332.2v-6.8M894.66 666.5v6.8M894.66 1332.2v-6.8M914.93 666.5v6.8M914.93 1332.2v-6.8M930.65 666.5v6.8M930.65 1332.2v-6.8M943.50 666.5v6.8M943.50 1332.2v-6.8M954.37 666.5v6.8M954.37 1332.2v-6.8M963.78 666.5v6.8M963.78 1332.2v-6.8M972.08 666.5v6.8M972.08 1332.2v-6.8M168.2 1310.01h8.1M979.5 1310.01h-8.1M168.2 1287.82h8.1M979.5 1287.82h-8.1M168.2 1265.63h8.1M979.5 1265.63h-8.1M168.2 1243.44h8.1M979.5 1243.44h-8.1M168.2 1221.25h16.2M979.5 1221.25h-16.2M168.2 1199.06h8.1M979.5 1199.06h-8.1M168.2 1176.87h8.1M979.5 1176.87h-8.1M168.2 1154.68h8.1M979.5 1154.68h-8.1M168.2 1132.49h8.1M979.5 1132.49h-8.1M168.2 1110.30h16.2M979.5 1110.30h-16.2M168.2 1088.11h8.1M979.5 1088.11h-8.1M168.2 1065.92h8.1M979.5 1065.92h-8.1M168.2 1043.73h8.1M979.5 1043.73h-8.1M168.2 1021.54h8.1M979.5 1021.54h-8.1M168.2 999.35h16.2M979.5 999.35h-16.2M168.2 977.16h8.1M979.5 977.16h-8.1M168.2 954.97h8.1M979.5 954.97h-8.1M168.2 932.78h8.1M979.5 932.78h-8.1M168.2 910.59h8.1M979.5 910.59h-8.1M168.2 888.40h16.2M979.5 888.40h-16.2M168.2 866.21h8.1M979.5 866.21h-8.1M168.2 844.02h8.1M979.5 844.02h-8.1M168.2 821.83h8.1M979.5 821.83h-8.1M168.2 799.64h8.1M979.5 799.64h-8.1M168.2 777.45h16.2M979.5 777.45h-16.2M168.2 755.26h8.1M979.5 755.26h-8.1M168.2 733.07h8.1M979.5 733.07h-8.1M168.2 710.88h8.1M979.5 710.88h-8.1M168.2 688.69h8.1M979.5 688.69h-8.1" fill="none" stroke="#000" stroke-width="3.0" stroke-linejoin="miter"/>
<g clip-path="url(#cpc)" fill="none" stroke-width="3.6" stroke-linejoin="round" stroke-linecap="butt">
<path d="M156.8 937.2 L166.5 937.2 L176.3 937.2 L186.1 937.2 L195.8 937.2 L205.6 937.2 L215.4 937.2 L225.1 937.2 L234.9 937.2 L244.7 937.2 L254.4 937.2 L264.2 937.2 L274.0 937.2 L283.8 937.2 L293.5 937.2 L303.3 937.2 L313.1 937.2 L322.8 937.2 L332.6 937.2 L342.4 937.2 L352.1 937.2 L361.9 937.2 L371.7 937.2 L381.4 937.2 L391.2 937.2 L401.0 937.2 L410.8 937.2 L420.5 937.2 L430.3 937.3 L440.1 937.3 L449.8 937.3 L459.6 937.3 L469.4 937.3 L479.1 937.3 L488.9 937.4 L498.7 937.4 L508.4 937.4 L518.2 937.5 L528.0 937.5 L537.8 937.5 L547.5 937.6 L557.3 937.7 L567.1 937.7 L576.8 937.8 L586.6 937.9 L596.4 938.0 L606.1 938.2 L615.9 938.3 L625.7 938.5 L635.4 938.7 L645.2 938.9 L655.0 939.1 L664.7 939.4 L674.5 939.8 L684.3 940.1 L694.1 940.6 L703.8 941.0 L713.6 941.6 L723.4 942.2 L733.1 942.9 L742.9 943.7 L752.7 944.6 L762.4 945.7 L772.2 946.8 L782.0 948.1 L791.7 949.5 L801.5 951.1 L811.3 952.8 L821.1 954.8 L830.8 956.9 L840.6 959.2 L850.4 961.8 L860.1 964.5 L869.9 967.5 L879.7 970.7 L889.4 974.1 L899.2 977.7 L909.0 981.5 L918.7 985.4 L928.5 989.6 L938.3 993.9 L948.1 998.3 L957.8 1002.9 L967.6 1007.6 L977.4 1012.4 L987.1 1017.2 L996.9 1022.1" stroke="#000000"/>
<path d="M156.8 939.9 L166.5 939.9 L176.3 939.9 L186.1 939.9 L195.8 939.9 L205.6 939.9 L215.4 939.9 L225.1 939.9 L234.9 939.9 L244.7 939.9 L254.4 939.9 L264.2 939.9 L274.0 939.9 L283.8 939.9 L293.5 939.9 L303.3 939.9 L313.1 939.9 L322.8 939.9 L332.6 939.9 L342.4 939.9 L352.1 940.0 L361.9 940.0 L371.7 940.0 L381.4 940.0 L391.2 940.0 L401.0 940.0 L410.8 940.0 L420.5 940.0 L430.3 940.0 L440.1 940.0 L449.8 940.1 L459.6 940.1 L469.4 940.1 L479.1 940.1 L488.9 940.2 L498.7 940.2 L508.4 940.3 L518.2 940.3 L528.0 940.4 L537.8 940.4 L547.5 940.5 L557.3 940.6 L567.1 940.7 L576.8 940.8 L586.6 940.9 L596.4 941.1 L606.1 941.3 L615.9 941.5 L625.7 941.7 L635.4 942.0 L645.2 942.3 L655.0 942.6 L664.7 943.0 L674.5 943.4 L684.3 943.9 L694.1 944.5 L703.8 945.1 L713.6 945.9 L723.4 946.7 L733.1 947.6 L742.9 948.7 L752.7 949.9 L762.4 951.2 L772.2 952.7 L782.0 954.3 L791.7 956.1 L801.5 958.1 L811.3 960.3 L821.1 962.7 L830.8 965.3 L840.6 968.2 L850.4 971.2 L860.1 974.5 L869.9 978.0 L879.7 981.7 L889.4 985.6 L899.2 989.7 L909.0 993.9 L918.7 998.4 L928.5 1002.9 L938.3 1007.6 L948.1 1012.4 L957.8 1017.3 L967.6 1022.3 L977.4 1027.3 L987.1 1032.4 L996.9 1037.5" stroke="#FF00FF"/>
<path d="M156.8 943.5 L166.5 943.5 L176.3 943.5 L186.1 943.5 L195.8 943.5 L205.6 943.5 L215.4 943.5 L225.1 943.5 L234.9 943.5 L244.7 943.5 L254.4 943.5 L264.2 943.5 L274.0 943.5 L283.8 943.5 L293.5 943.5 L303.3 943.5 L313.1 943.5 L322.8 943.5 L332.6 943.5 L342.4 943.5 L352.1 943.5 L361.9 943.5 L371.7 943.6 L381.4 943.6 L391.2 943.6 L401.0 943.6 L410.8 943.6 L420.5 943.6 L430.3 943.7 L440.1 943.7 L449.8 943.7 L459.6 943.7 L469.4 943.8 L479.1 943.8 L488.9 943.9 L498.7 943.9 L508.4 944.0 L518.2 944.1 L528.0 944.2 L537.8 944.3 L547.5 944.4 L557.3 944.5 L567.1 944.7 L576.8 944.8 L586.6 945.0 L596.4 945.3 L606.1 945.5 L615.9 945.8 L625.7 946.2 L635.4 946.6 L645.2 947.0 L655.0 947.5 L664.7 948.1 L674.5 948.7 L684.3 949.5 L694.1 950.3 L703.8 951.3 L713.6 952.3 L723.4 953.5 L733.1 954.8 L742.9 956.3 L752.7 958.0 L762.4 959.8 L772.2 961.9 L782.0 964.1 L791.7 966.6 L801.5 969.2 L811.3 972.1 L821.1 975.3 L830.8 978.6 L840.6 982.2 L850.4 986.0 L860.1 990.0 L869.9 994.2 L879.7 998.6 L889.4 1003.1 L899.2 1007.9 L909.0 1012.7 L918.7 1017.7 L928.5 1022.7 L938.3 1027.8 L948.1 1033.0 L957.8 1038.3 L967.6 1043.5 L977.4 1048.8 L987.1 1054.0 L996.9 1059.3" stroke="#00FFFF"/>
<path d="M156.8 989.8 L166.5 989.8 L176.3 989.8 L186.1 989.8 L195.8 989.8 L205.6 989.8 L215.4 989.8 L225.1 989.8 L234.9 989.8 L244.7 989.8 L254.4 989.8 L264.2 989.8 L274.0 989.8 L283.8 989.8 L293.5 989.8 L303.3 989.8 L313.1 989.8 L322.8 989.8 L332.6 989.8 L342.4 989.8 L352.1 989.8 L361.9 989.8 L371.7 989.8 L381.4 989.9 L391.2 989.9 L401.0 989.9 L410.8 989.9 L420.5 989.9 L430.3 989.9 L440.1 989.9 L449.8 989.9 L459.6 989.9 L469.4 989.9 L479.1 989.9 L488.9 989.9 L498.7 989.9 L508.4 989.9 L518.2 989.9 L528.0 989.9 L537.8 989.9 L547.5 990.0 L557.3 990.0 L567.1 990.0 L576.8 990.0 L586.6 990.1 L596.4 990.1 L606.1 990.1 L615.9 990.2 L625.7 990.2 L635.4 990.3 L645.2 990.3 L655.0 990.4 L664.7 990.5 L674.5 990.6 L684.3 990.7 L694.1 990.8 L703.8 991.0 L713.6 991.1 L723.4 991.3 L733.1 991.5 L742.9 991.8 L752.7 992.1 L762.4 992.4 L772.2 992.7 L782.0 993.2 L791.7 993.6 L801.5 994.2 L811.3 994.8 L821.1 995.4 L830.8 996.2 L840.6 997.1 L850.4 998.0 L860.1 999.1 L869.9 1000.3 L879.7 1001.6 L889.4 1003.1 L899.2 1004.7 L909.0 1006.5 L918.7 1008.4 L928.5 1010.5 L938.3 1012.8 L948.1 1015.2 L957.8 1017.8 L967.6 1020.5 L977.4 1023.4 L987.1 1026.5 L996.9 1029.7" stroke="#228833"/>
<path d="M156.8 1006.0 L166.5 1006.0 L176.3 1006.0 L186.1 1006.0 L195.8 1006.0 L205.6 1006.0 L215.4 1006.0 L225.1 1006.0 L234.9 1006.0 L244.7 1006.0 L254.4 1006.0 L264.2 1006.0 L274.0 1006.0 L283.8 1006.0 L293.5 1006.0 L303.3 1006.0 L313.1 1006.0 L322.8 1006.0 L332.6 1006.0 L342.4 1006.0 L352.1 1006.0 L361.9 1006.0 L371.7 1006.0 L381.4 1006.0 L391.2 1006.0 L401.0 1006.0 L410.8 1006.0 L420.5 1006.0 L430.3 1006.0 L440.1 1006.0 L449.8 1006.0 L459.6 1006.0 L469.4 1006.0 L479.1 1006.1 L488.9 1006.1 L498.7 1006.1 L508.4 1006.1 L518.2 1006.1 L528.0 1006.1 L537.8 1006.1 L547.5 1006.2 L557.3 1006.2 L567.1 1006.2 L576.8 1006.2 L586.6 1006.3 L596.4 1006.3 L606.1 1006.4 L615.9 1006.4 L625.7 1006.5 L635.4 1006.6 L645.2 1006.7 L655.0 1006.8 L664.7 1006.9 L674.5 1007.0 L684.3 1007.2 L694.1 1007.3 L703.8 1007.5 L713.6 1007.7 L723.4 1008.0 L733.1 1008.3 L742.9 1008.6 L752.7 1009.0 L762.4 1009.4 L772.2 1009.9 L782.0 1010.4 L791.7 1011.0 L801.5 1011.7 L811.3 1012.5 L821.1 1013.4 L830.8 1014.4 L840.6 1015.4 L850.4 1016.7 L860.1 1018.0 L869.9 1019.5 L879.7 1021.1 L889.4 1022.9 L899.2 1024.8 L909.0 1026.9 L918.7 1029.2 L928.5 1031.6 L938.3 1034.1 L948.1 1036.8 L957.8 1039.7 L967.6 1042.7 L977.4 1045.9 L987.1 1049.1 L996.9 1052.5" stroke="#EE6677"/>
<path d="M156.8 1074.7 L166.5 1074.7 L176.3 1074.7 L186.1 1074.7 L195.8 1074.7 L205.6 1074.7 L215.4 1074.7 L225.1 1074.7 L234.9 1074.7 L244.7 1074.7 L254.4 1074.7 L264.2 1074.8 L274.0 1074.8 L283.8 1074.8 L293.5 1074.8 L303.3 1074.8 L313.1 1074.8 L322.8 1074.8 L332.6 1074.8 L342.4 1074.8 L352.1 1074.8 L361.9 1074.8 L371.7 1074.8 L381.4 1074.8 L391.2 1074.8 L401.0 1074.9 L410.8 1074.9 L420.5 1074.9 L430.3 1074.9 L440.1 1075.0 L449.8 1075.0 L459.6 1075.0 L469.4 1075.1 L479.1 1075.1 L488.9 1075.2 L498.7 1075.2 L508.4 1075.3 L518.2 1075.4 L528.0 1075.5 L537.8 1075.6 L547.5 1075.7 L557.3 1075.9 L567.1 1076.0 L576.8 1076.2 L586.6 1076.5 L596.4 1076.7 L606.1 1077.0 L615.9 1077.3 L625.7 1077.7 L635.4 1078.1 L645.2 1078.6 L655.0 1079.1 L664.7 1079.7 L674.5 1080.4 L684.3 1081.2 L694.1 1082.1 L703.8 1082.5 L713.6 1079.1 L723.4 1075.8 L733.1 1072.6 L742.9 1069.6 L752.7 1066.7 L762.4 1064.1 L772.2 1061.6 L782.0 1059.3 L791.7 1057.3 L801.5 1055.5 L811.3 1053.9 L821.1 1052.6 L830.8 1051.5 L840.6 1050.8 L850.4 1050.2 L860.1 1050.0 L869.9 1049.9 L879.7 1050.1 L889.4 1050.5 L899.2 1051.1 L909.0 1051.9 L918.7 1052.9 L928.5 1054.0 L938.3 1055.3 L948.1 1056.7 L957.8 1058.2 L967.6 1059.8 L977.4 1061.5 L987.1 1063.2 L996.9 1065.0" stroke="#4477AA"/>
<path d="M156.8 1107.5 L166.5 1107.5 L176.3 1107.5 L186.1 1107.5 L195.8 1107.5 L205.6 1107.5 L215.4 1107.5 L225.1 1107.5 L234.9 1107.5 L244.7 1107.5 L254.4 1107.5 L264.2 1107.5 L274.0 1107.5 L283.8 1107.5 L293.5 1107.5 L303.3 1107.5 L313.1 1107.5 L322.8 1107.5 L332.6 1107.5 L342.4 1107.5 L352.1 1107.5 L361.9 1107.5 L371.7 1107.5 L381.4 1107.5 L391.2 1107.5 L401.0 1107.6 L410.8 1107.6 L420.5 1107.6 L430.3 1107.6 L440.1 1107.6 L449.8 1107.6 L459.6 1107.7 L469.4 1107.7 L479.1 1107.7 L488.9 1107.7 L498.7 1107.8 L508.4 1107.8 L518.2 1107.9 L528.0 1107.9 L537.8 1108.0 L547.5 1108.1 L557.3 1108.1 L567.1 1108.2 L576.8 1108.4 L586.6 1108.5 L596.4 1108.6 L606.1 1108.8 L615.9 1109.0 L625.7 1109.2 L635.4 1109.5 L645.2 1109.7 L655.0 1110.1 L664.7 1110.4 L674.5 1110.8 L684.3 1111.3 L694.1 1111.8 L703.8 1112.4 L713.6 1113.1 L723.4 1110.6 L733.1 1107.8 L742.9 1105.0 L752.7 1102.3 L762.4 1099.8 L772.2 1097.3 L782.0 1095.0 L791.7 1092.9 L801.5 1090.9 L811.3 1089.1 L821.1 1087.6 L830.8 1086.2 L840.6 1085.0 L850.4 1084.0 L860.1 1083.3 L869.9 1082.8 L879.7 1082.4 L889.4 1082.3 L899.2 1082.4 L909.0 1082.7 L918.7 1083.1 L928.5 1083.7 L938.3 1084.4 L948.1 1085.3 L957.8 1086.3 L967.6 1087.4 L977.4 1088.7 L987.1 1090.0 L996.9 1091.3" stroke="#FFB700"/>
</g>
<path d="M979.5 666.5H1791.4V1332.2H979.5ZM1028.38 666.5v6.8M1028.38 1332.2v-6.8M1056.97 666.5v6.8M1056.97 1332.2v-6.8M1077.26 666.5v6.8M1077.26 1332.2v-6.8M1093.00 666.5v6.8M1093.00 1332.2v-6.8M1105.86 666.5v6.8M1105.86 1332.2v-6.8M1116.73 666.5v6.8M1116.73 1332.2v-6.8M1126.14 666.5v6.8M1126.14 1332.2v-6.8M1134.45 666.5v6.8M1134.45 1332.2v-6.8M1141.88 666.5v13.4M1141.88 1332.2v-13.4M1190.76 666.5v6.8M1190.76 1332.2v-6.8M1219.35 666.5v6.8M1219.35 1332.2v-6.8M1239.64 666.5v6.8M1239.64 1332.2v-6.8M1255.38 666.5v6.8M1255.38 1332.2v-6.8M1268.24 666.5v6.8M1268.24 1332.2v-6.8M1279.11 666.5v6.8M1279.11 1332.2v-6.8M1288.52 666.5v6.8M1288.52 1332.2v-6.8M1296.83 666.5v6.8M1296.83 1332.2v-6.8M1304.26 666.5v13.4M1304.26 1332.2v-13.4M1353.14 666.5v6.8M1353.14 1332.2v-6.8M1381.73 666.5v6.8M1381.73 1332.2v-6.8M1402.02 666.5v6.8M1402.02 1332.2v-6.8M1417.76 666.5v6.8M1417.76 1332.2v-6.8M1430.62 666.5v6.8M1430.62 1332.2v-6.8M1441.49 666.5v6.8M1441.49 1332.2v-6.8M1450.90 666.5v6.8M1450.90 1332.2v-6.8M1459.21 666.5v6.8M1459.21 1332.2v-6.8M1466.64 666.5v13.4M1466.64 1332.2v-13.4M1515.52 666.5v6.8M1515.52 1332.2v-6.8M1544.11 666.5v6.8M1544.11 1332.2v-6.8M1564.40 666.5v6.8M1564.40 1332.2v-6.8M1580.14 666.5v6.8M1580.14 1332.2v-6.8M1593.00 666.5v6.8M1593.00 1332.2v-6.8M1603.87 666.5v6.8M1603.87 1332.2v-6.8M1613.28 666.5v6.8M1613.28 1332.2v-6.8M1621.59 666.5v6.8M1621.59 1332.2v-6.8M1629.02 666.5v13.4M1629.02 1332.2v-13.4M1677.90 666.5v6.8M1677.90 1332.2v-6.8M1706.49 666.5v6.8M1706.49 1332.2v-6.8M1726.78 666.5v6.8M1726.78 1332.2v-6.8M1742.52 666.5v6.8M1742.52 1332.2v-6.8M1755.38 666.5v6.8M1755.38 1332.2v-6.8M1766.25 666.5v6.8M1766.25 1332.2v-6.8M1775.66 666.5v6.8M1775.66 1332.2v-6.8M1783.97 666.5v6.8M1783.97 1332.2v-6.8M979.5 1310.01h8.1M1791.4 1310.01h-8.1M979.5 1287.82h8.1M1791.4 1287.82h-8.1M979.5 1265.63h8.1M1791.4 1265.63h-8.1M979.5 1243.44h8.1M1791.4 1243.44h-8.1M979.5 1221.25h16.2M1791.4 1221.25h-16.2M979.5 1199.06h8.1M1791.4 1199.06h-8.1M979.5 1176.87h8.1M1791.4 1176.87h-8.1M979.5 1154.68h8.1M1791.4 1154.68h-8.1M979.5 1132.49h8.1M1791.4 1132.49h-8.1M979.5 1110.30h16.2M1791.4 1110.30h-16.2M979.5 1088.11h8.1M1791.4 1088.11h-8.1M979.5 1065.92h8.1M1791.4 1065.92h-8.1M979.5 1043.73h8.1M1791.4 1043.73h-8.1M979.5 1021.54h8.1M1791.4 1021.54h-8.1M979.5 999.35h16.2M1791.4 999.35h-16.2M979.5 977.16h8.1M1791.4 977.16h-8.1M979.5 954.97h8.1M1791.4 954.97h-8.1M979.5 932.78h8.1M1791.4 932.78h-8.1M979.5 910.59h8.1M1791.4 910.59h-8.1M979.5 888.40h16.2M1791.4 888.40h-16.2M979.5 866.21h8.1M1791.4 866.21h-8.1M979.5 844.02h8.1M1791.4 844.02h-8.1M979.5 821.83h8.1M1791.4 821.83h-8.1M979.5 799.64h8.1M1791.4 799.64h-8.1M979.5 777.45h16.2M1791.4 777.45h-16.2M979.5 755.26h8.1M1791.4 755.26h-8.1M979.5 733.07h8.1M1791.4 733.07h-8.1M979.5 710.88h8.1M1791.4 710.88h-8.1M979.5 688.69h8.1M1791.4 688.69h-8.1" fill="none" stroke="#000" stroke-width="3.0" stroke-linejoin="miter"/>
<g clip-path="url(#cpd)" fill="none" stroke-width="3.6" stroke-linejoin="round" stroke-linecap="butt">
<path d="M968.1 1060.4 L977.8 1056.4 L987.6 1052.3 L997.4 1048.1 L1007.1 1043.9 L1016.9 1039.6 L1026.7 1035.2 L1036.5 1030.8 L1046.2 1026.3 L1056.0 1021.7 L1065.8 1017.1 L1075.6 1012.4 L1085.3 1007.6 L1095.1 1002.8 L1104.9 997.9 L1114.7 992.9 L1124.4 987.9 L1134.2 982.8 L1144.0 977.6 L1153.8 972.4 L1163.5 967.0 L1173.3 961.6 L1183.1 956.2 L1192.9 950.6 L1202.6 945.0 L1212.4 939.3 L1222.2 933.5 L1231.9 927.7 L1241.7 921.8 L1251.5 915.8 L1261.3 909.8 L1271.0 903.7 L1280.8 897.6 L1290.6 891.4 L1300.4 885.1 L1310.1 878.9 L1319.9 872.6 L1329.7 866.2 L1339.5 859.9 L1349.2 853.5 L1359.0 847.2 L1368.8 840.9 L1378.6 834.7 L1388.3 828.5 L1398.1 822.4 L1407.9 816.5 L1417.7 810.7 L1427.4 805.1 L1437.2 799.7 L1447.0 794.5 L1456.7 789.7 L1466.5 785.2 L1476.3 781.0 L1486.1 777.3 L1495.8 774.1 L1505.6 771.4 L1515.4 769.2 L1525.2 767.5 L1534.9 766.5 L1544.7 766.1 L1554.5 766.4 L1564.3 767.3 L1574.0 768.8 L1583.8 771.0 L1593.6 773.8 L1603.4 777.2 L1613.1 781.1 L1622.9 785.6 L1632.7 790.5 L1642.4 795.9 L1652.2 801.6 L1662.0 807.7 L1671.8 814.1 L1681.5 820.8 L1691.3 827.6 L1701.1 834.7 L1710.9 841.8 L1720.6 849.1 L1730.4 856.5 L1740.2 863.9 L1750.0 871.3 L1759.7 878.8 L1769.5 886.2 L1779.3 893.6 L1789.1 901.0 L1798.8 908.3 L1808.6 915.5" stroke="#000000"/>
<path d="M968.1 1094.3 L977.8 1090.8 L987.6 1087.2 L997.4 1083.5 L1007.1 1079.8 L1016.9 1076.1 L1026.7 1072.2 L1036.5 1068.4 L1046.2 1064.4 L1056.0 1060.5 L1065.8 1056.4 L1075.6 1052.3 L1085.3 1048.2 L1095.1 1043.9 L1104.9 1039.7 L1114.7 1035.3 L1124.4 1030.9 L1134.2 1026.4 L1144.0 1021.9 L1153.8 1017.3 L1163.5 1012.7 L1173.3 1007.9 L1183.1 1003.2 L1192.9 998.3 L1202.6 993.4 L1212.4 988.4 L1222.2 983.4 L1231.9 978.3 L1241.7 973.2 L1251.5 968.0 L1261.3 962.7 L1271.0 957.4 L1280.8 952.0 L1290.6 946.6 L1300.4 941.2 L1310.1 935.7 L1319.9 930.2 L1329.7 924.6 L1339.5 919.1 L1349.2 913.6 L1359.0 908.1 L1368.8 902.6 L1378.6 897.1 L1388.3 891.8 L1398.1 886.5 L1407.9 881.3 L1417.7 876.3 L1427.4 871.4 L1437.2 866.7 L1447.0 862.2 L1456.7 858.0 L1466.5 854.1 L1476.3 850.6 L1486.1 847.4 L1495.8 844.6 L1505.6 842.2 L1515.4 840.4 L1525.2 839.0 L1534.9 838.2 L1544.7 837.9 L1554.5 838.1 L1564.3 839.0 L1574.0 840.3 L1583.8 842.3 L1593.6 844.7 L1603.4 847.7 L1613.1 851.1 L1622.9 855.0 L1632.7 859.3 L1642.4 864.0 L1652.2 869.0 L1662.0 874.3 L1671.8 879.8 L1681.5 885.6 L1691.3 891.6 L1701.1 897.7 L1710.9 903.9 L1720.6 910.2 L1730.4 916.5 L1740.2 923.0 L1750.0 929.4 L1759.7 935.8 L1769.5 942.3 L1779.3 948.7 L1789.1 955.0 L1798.8 961.4 L1808.6 967.6" stroke="#FF00FF"/>
<path d="M968.1 1126.7 L977.8 1123.6 L987.6 1120.5 L997.4 1117.4 L1007.1 1114.2 L1016.9 1111.0 L1026.7 1107.7 L1036.5 1104.3 L1046.2 1100.9 L1056.0 1097.5 L1065.8 1094.0 L1075.6 1090.5 L1085.3 1086.9 L1095.1 1083.3 L1104.9 1079.6 L1114.7 1075.8 L1124.4 1072.0 L1134.2 1068.2 L1144.0 1064.3 L1153.8 1060.3 L1163.5 1056.3 L1173.3 1052.2 L1183.1 1048.1 L1192.9 1043.9 L1202.6 1039.6 L1212.4 1035.3 L1222.2 1031.0 L1231.9 1026.6 L1241.7 1022.1 L1251.5 1017.6 L1261.3 1013.0 L1271.0 1008.4 L1280.8 1003.7 L1290.6 999.0 L1300.4 994.2 L1310.1 989.4 L1319.9 984.6 L1329.7 979.7 L1339.5 974.8 L1349.2 969.9 L1359.0 965.0 L1368.8 960.1 L1378.6 955.2 L1388.3 950.3 L1398.1 945.4 L1407.9 940.7 L1417.7 935.9 L1427.4 931.3 L1437.2 926.8 L1447.0 922.4 L1456.7 918.2 L1466.5 914.2 L1476.3 910.5 L1486.1 906.9 L1495.8 903.7 L1505.6 900.8 L1515.4 898.3 L1525.2 896.1 L1534.9 894.4 L1544.7 893.1 L1554.5 892.3 L1564.3 892.0 L1574.0 892.2 L1583.8 892.8 L1593.6 894.0 L1603.4 895.7 L1613.1 897.8 L1622.9 900.4 L1632.7 903.5 L1642.4 906.9 L1652.2 910.7 L1662.0 914.9 L1671.8 919.4 L1681.5 924.1 L1691.3 929.1 L1701.1 934.2 L1710.9 939.6 L1720.6 945.1 L1730.4 950.7 L1740.2 956.3 L1750.0 962.1 L1759.7 967.8 L1769.5 973.6 L1779.3 979.4 L1789.1 985.2 L1798.8 991.0 L1808.6 996.7" stroke="#228833"/>
<path d="M968.1 1165.8 L977.8 1163.3 L987.6 1160.8 L997.4 1158.2 L1007.1 1155.6 L1016.9 1153.0 L1026.7 1150.3 L1036.5 1147.6 L1046.2 1144.9 L1056.0 1142.1 L1065.8 1139.3 L1075.6 1136.4 L1085.3 1133.5 L1095.1 1130.5 L1104.9 1127.5 L1114.7 1124.5 L1124.4 1121.4 L1134.2 1118.2 L1144.0 1115.1 L1153.8 1111.8 L1163.5 1108.6 L1173.3 1105.2 L1183.1 1101.9 L1192.9 1098.5 L1202.6 1095.0 L1212.4 1091.5 L1222.2 1088.0 L1231.9 1084.4 L1241.7 1080.7 L1251.5 1077.0 L1261.3 1073.3 L1271.0 1069.5 L1280.8 1065.7 L1290.6 1061.9 L1300.4 1058.0 L1310.1 1054.1 L1319.9 1050.1 L1329.7 1046.1 L1339.5 1042.1 L1349.2 1038.1 L1359.0 1034.1 L1368.8 1030.0 L1378.6 1026.0 L1388.3 1022.0 L1398.1 1018.0 L1407.9 1014.0 L1417.7 1010.1 L1427.4 1006.2 L1437.2 1002.5 L1447.0 998.8 L1456.7 995.3 L1466.5 991.9 L1476.3 988.7 L1486.1 985.7 L1495.8 982.9 L1505.6 980.3 L1515.4 978.1 L1525.2 976.1 L1534.9 974.5 L1544.7 973.2 L1554.5 972.3 L1564.3 971.8 L1574.0 971.7 L1583.8 972.0 L1593.6 972.7 L1603.4 973.9 L1613.1 975.4 L1622.9 977.3 L1632.7 979.6 L1642.4 982.2 L1652.2 985.1 L1662.0 988.4 L1671.8 991.9 L1681.5 995.6 L1691.3 999.6 L1701.1 1003.7 L1710.9 1008.0 L1720.6 1012.4 L1730.4 1016.9 L1740.2 1021.5 L1750.0 1026.2 L1759.7 1030.9 L1769.5 1035.6 L1779.3 1040.3 L1789.1 1045.1 L1798.8 1049.8 L1808.6 1054.5" stroke="#EE6677"/>
</g>
<g font-family="Liberation Sans, Arial, Helvetica, sans-serif" font-weight="bold" font-size="49.5" fill="#000">
<text x="154.4" y="666.2" text-anchor="end"><tspan font-size="50.79" letter-spacing="-0.72">0</tspan></text>
<text x="154.4" y="571.9" text-anchor="end"><tspan font-size="50.79" letter-spacing="-0.72">5</tspan></text>
<text x="154.4" y="461.0" text-anchor="end"><tspan font-size="50.79" letter-spacing="-0.72">10</tspan></text>
<text x="154.4" y="350.0" text-anchor="end"><tspan font-size="50.79" letter-spacing="-0.72">15</tspan></text>
<text x="154.4" y="239.1" text-anchor="end"><tspan font-size="50.79" letter-spacing="-0.72">20</tspan></text>
<text x="154.4" y="128.2" text-anchor="end"><tspan font-size="50.79" letter-spacing="-0.72">25</tspan></text>
<text x="154.4" y="1331.9" text-anchor="end"><tspan font-size="50.79" letter-spacing="-0.72">0</tspan></text>
<text x="154.4" y="1237.7" text-anchor="end"><tspan font-size="50.79" letter-spacing="-0.72">5</tspan></text>
<text x="154.4" y="1126.7" text-anchor="end"><tspan font-size="50.79" letter-spacing="-0.72">10</tspan></text>
<text x="154.4" y="1015.8" text-anchor="end"><tspan font-size="50.79" letter-spacing="-0.72">15</tspan></text>
<text x="154.4" y="904.8" text-anchor="end"><tspan font-size="50.79" letter-spacing="-0.72">20</tspan></text>
<text x="154.4" y="793.9" text-anchor="end"><tspan font-size="50.79" letter-spacing="-0.72">25</tspan></text>
<text x="167.6" y="1393.3" text-anchor="middle"><tspan font-size="50.79" letter-spacing="-0.64">0.001</tspan></text>
<text x="329.9" y="1393.3" text-anchor="middle"><tspan font-size="50.79" letter-spacing="-0.64">0.010</tspan></text>
<text x="492.1" y="1393.3" text-anchor="middle"><tspan font-size="50.79" letter-spacing="-0.64">0.100</tspan></text>
<text x="654.4" y="1393.3" text-anchor="middle"><tspan font-size="50.79" letter-spacing="-0.64">1.000</tspan></text>
<text x="816.6" y="1393.3" text-anchor="middle"><tspan font-size="50.79" letter-spacing="-0.66">10.000</tspan></text>
<text x="978.9" y="1393.3" text-anchor="middle"><tspan font-size="50.79" letter-spacing="-0.64">0.001</tspan></text>
<text x="1141.3" y="1393.3" text-anchor="middle"><tspan font-size="50.79" letter-spacing="-0.64">0.010</tspan></text>
<text x="1303.7" y="1393.3" text-anchor="middle"><tspan font-size="50.79" letter-spacing="-0.64">0.100</tspan></text>
<text x="1466.0" y="1393.3" text-anchor="middle"><tspan font-size="50.79" letter-spacing="-0.64">1.000</tspan></text>
<text x="1628.4" y="1393.3" text-anchor="middle"><tspan font-size="50.79" letter-spacing="-0.66">10.000</tspan></text>
</g>
<g font-family="Liberation Sans, Arial, Helvetica, sans-serif" font-weight="bold" font-size="42">
<text x="217.45" y="67.37" fill="#000000">Mimas</text>
<text x="217.45" y="116.19" fill="#FF00FF">Enceladus</text>
<text x="217.45" y="165.01" fill="#00FFFF">Tethys</text>
<text x="217.45" y="533.36" fill="#228833">Dione</text>
<text x="217.45" y="582.18" fill="#EE6677">Rhea</text>
<text x="217.45" y="631.00" fill="#4477AA">Iapetus</text>
<text x="1028.78" y="67.37" fill="#000000">Miranda</text>
<text x="1028.78" y="116.19" fill="#FF00FF">Ariel</text>
<text x="1028.78" y="165.01" fill="#228833">Umbriel</text>
<text x="1028.78" y="566.64" fill="#EE6677">Titania</text>
<text x="1028.78" y="615.46" fill="#4477AA">Oberon</text>
<text x="217.45" y="733.07" fill="#000000">Pandora</text><text transform="translate(383.11 733.07) matrix(1.078 0 -0.1492 1.0153 0 0)" fill="#000000">/</text><text x="397.16" y="733.07" fill="#000000">Prometheus</text>
<text x="217.45" y="781.89" fill="#FF00FF">Epimetheus</text>
<text x="217.45" y="830.71" fill="#00FFFF">Janus</text>
<text x="217.45" y="879.52" fill="#228833">Telesto</text><text transform="translate(362.11 879.52) matrix(1.078 0 -0.1492 1.0153 0 0)" fill="#228833">/</text><text x="376.16" y="879.52" fill="#228833">Calypso</text>
<text x="217.45" y="1199.06" fill="#EE6677">Helene</text>
<text x="217.45" y="1247.88" fill="#4477AA">Hyperion</text>
<text x="217.45" y="1296.70" fill="#FFB700">Phoebe</text>
<text x="1028.78" y="733.07" fill="#000000">Europa</text>
<text x="1028.78" y="781.89" fill="#FF00FF">Ganymede</text>
<text x="1028.78" y="830.71" fill="#228833">Callisto</text>
<text x="1028.78" y="879.52" fill="#EE6677">Titan</text>
</g>
<g font-family="Liberation Sans, Arial, Helvetica, sans-serif" font-weight="bold" font-size="74" fill="#000" text-anchor="middle">
<text x="915.5" y="89.5">(a)</text>
<text x="1726.8" y="89.5">(b)</text>
<text x="915.5" y="755.0">(c)</text>
<text x="1726.8" y="755.0">(d)</text>
</g>
<text font-family="Liberation Sans, Arial, Helvetica, sans-serif" font-weight="bold" font-size="73.6" fill="#000" text-anchor="middle" x="979.9" y="1498.6">Impactor Diameter (km)</text>
<g font-family="Liberation Sans, Arial, Helvetica, sans-serif" font-weight="bold" font-size="73.6" fill="#000" transform="translate(55 666.7) rotate(-90)"><text x="-629.93" y="0.00" >Crater Diameter</text><text transform="translate(-61.40 0.00) matrix(1.078 0 -0.1492 1.0153 0 0)" >/</text><text x="-16.33" y="0.00" >Impactor Diameter</text></g>
</svg>
</body></html>
